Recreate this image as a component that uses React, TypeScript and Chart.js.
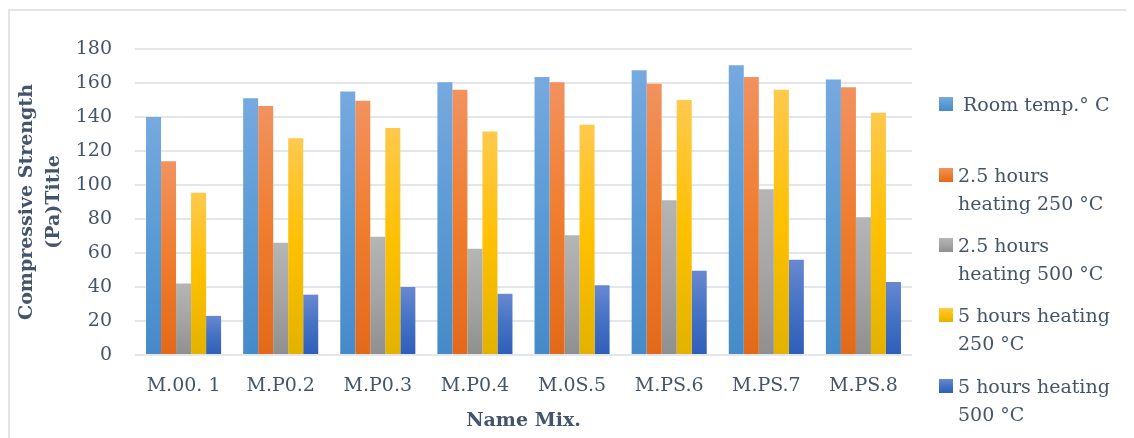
import React, { useEffect, useRef } from "react";
import { Chart, registerables } from "chart.js";

Chart.register(...registerables);

const categories = ["M.00. 1", "M.P0.2", "M.P0.3", "M.P0.4", "M.0S.5", "M.PS.6", "M.PS.7", "M.PS.8"];
const seriesNames = [
  ["Room temp.° C"],
  ["2.5 hours", "heating 250 °C"],
  ["2.5 hours", "heating 500 °C"],
  ["5 hours heating", "250 °C"],
  ["5 hours heating", "500 °C"],
];
const roomTemp = [140, 151, 155, 160.5, 163.5, 167.5, 170.5, 162];
const h25at250 = [114, 146.5, 149.5, 156, 160.5, 159.5, 163.5, 157.5];
const h25at500 = [42, 66, 69.5, 62.5, 70.5, 91, 97.5, 81];
const h5at250 = [95.5, 127.5, 133.5, 131.5, 135.5, 150, 156, 142.5];
const h5at500 = [23, 35.5, 40, 36, 41, 49.5, 56, 43];
const yTicks = [0, 20, 40, 60, 80, 100, 120, 140, 160, 180];

const seriesValues = [roomTemp, h25at250, h25at500, h5at250, h5at500];
const palettes = [
  ["#76a9df", "#5b9bd5", "#468ac9"],
  ["#f2925f", "#ef7d2e", "#e3691a"],
  ["#b5b5b5", "#a5a5a5", "#8f8f8f"],
  ["#ffc94d", "#ffc000", "#e2b200"],
  ["#6888d1", "#4472c4", "#2e5eb9"],
];

const FONT = "'DejaVu Serif', serif";
const TEXT = "#44546a";

function gradientFill(p: string[]) {
  return (ctx: any) => {
    const chart = ctx.chart;
    if (!chart.chartArea || !chart.scales.y) return p[1];
    const ys = chart.scales.y;
    const v = typeof ctx.raw === "number" ? ctx.raw : 0;
    const top = ys.getPixelForValue(v);
    const bottom = ys.getPixelForValue(0);
    if (!isFinite(top) || !isFinite(bottom) || top === bottom) return p[1];
    const g = chart.ctx.createLinearGradient(0, top, 0, bottom);
    g.addColorStop(0, p[0]);
    g.addColorStop(0.5, p[1]);
    g.addColorStop(1, p[2]);
    return g;
  };
}

export default function App() {
  const ref = useRef<HTMLCanvasElement>(null);
  useEffect(() => {
    document.body.style.overflow = "hidden";
    if (!ref.current) return;
    const chart = new Chart(ref.current, {
      type: "bar",
      data: {
        labels: categories,
        datasets: seriesValues.map((vals, i) => ({
          label: seriesNames[i].join(" "),
          data: vals,
          backgroundColor: gradientFill(palettes[i]),
          borderWidth: 0,
          categoryPercentage: 0.773,
          barPercentage: 1,
        })),
      },
      options: {
        animation: false,
        responsive: false,
        maintainAspectRatio: false,
        layout: { padding: { top: 41, right: 222, left: 0, bottom: 0 } },
        plugins: { legend: { display: false }, tooltip: { enabled: false } },
        scales: {
          x: {
            grid: { display: false },
            border: { display: false },
            ticks: { color: TEXT, font: { family: FONT, size: 19 }, padding: 12, maxRotation: 0, autoSkip: false },
            title: {
              display: true,
              text: "Name Mix.",
              color: TEXT,
              font: { family: FONT, size: 19, weight: "bold" },
              padding: { top: 0, bottom: 6 },
            },
            afterFit: (s: any) => {
              s.height = 83;
            },
          },
          y: {
            min: 0,
            max: 180,
            afterBuildTicks: (s: any) => {
              s.ticks = yTicks.map((v) => ({ value: v }));
            },
            grid: { color: "#e3e6ea", lineWidth: 2, drawTicks: false },
            border: { display: false },
            ticks: { color: TEXT, font: { family: FONT, size: 19 }, padding: 23 },
            title: {
              display: true,
              text: ["Compressive Strength", "(Pa)Title"],
              color: TEXT,
              font: { family: FONT, size: 19, weight: "bold", lineHeight: 1.4 },
              padding: { top: 6, bottom: 0 },
            },
            afterFit: (s: any) => {
              s.width = 127;
            },
          },
        },
      },
    });
    return () => chart.destroy();
  }, []);

  const legendTops = [104, 175, 245, 315, 386];
  return (
    <div style={{ position: "relative", width: 1126, height: 430 }}>
      <canvas ref={ref} width={1126} height={430} style={{ position: "absolute", left: 0, top: 0, width: 1126, height: 430 }} />
      <div
        style={{
          position: "absolute",
          left: 0,
          top: 1,
          width: 1126,
          height: 429,
          borderTop: "2px solid #e1e4e8",
          borderLeft: "2px solid #e1e4e8",
          boxSizing: "border-box",
          pointerEvents: "none",
        }}
      />
      {seriesNames.map((lines, i) => {
        const cy = legendTops[i] - 8;
        const p = palettes[i];
        return (
          <div key={i}>
            <div
              style={{
                position: "absolute",
                left: 939 - 8,
                top: cy - 7,
                width: 14,
                height: 14,
                background: `linear-gradient(${p[0]}, ${p[1]}, ${p[2]})`,
              }}
            />
            {lines.map((t, j) => (
              <div
                key={j}
                style={{
                  position: "absolute",
                  left: (i === 0 ? 963 : 958) - 8,
                  top: cy - 14 + j * 28,
                  height: 28,
                  lineHeight: "28px",
                  fontFamily: FONT,
                  fontSize: 19,
                  color: TEXT,
                  whiteSpace: "nowrap",
                }}
              >
                {t}
              </div>
            ))}
          </div>
        );
      })}
    </div>
  );
}
